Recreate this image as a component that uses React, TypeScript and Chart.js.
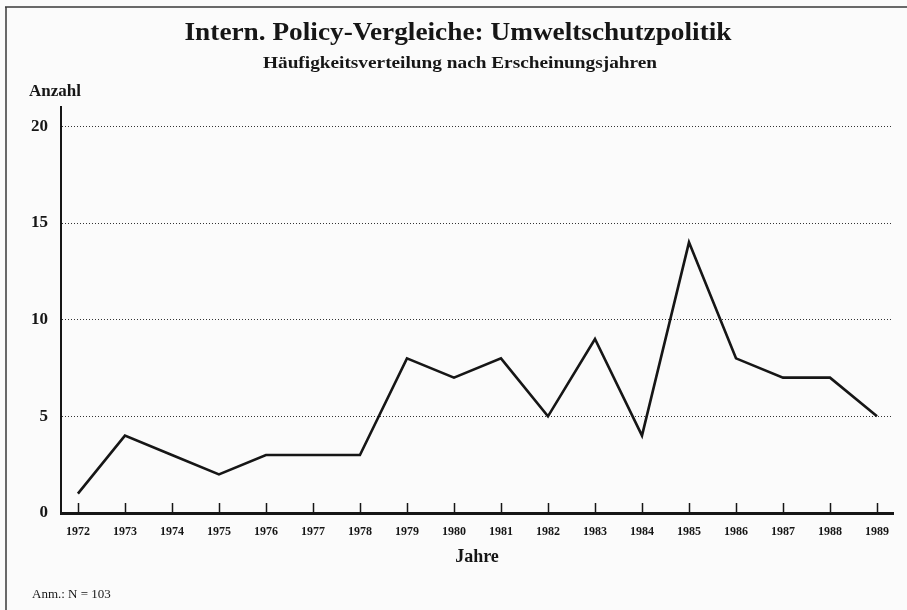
import { useEffect, useRef } from "react";
import { Chart, registerables } from "chart.js";

Chart.register(...registerables);

const years = [1972, 1973, 1974, 1975, 1976, 1977, 1978, 1979, 1980, 1981, 1982, 1983, 1984, 1985, 1986, 1987, 1988, 1989];
const counts = [1, 4, 3, 2, 3, 3, 3, 8, 7, 8, 5, 9, 4, 14, 8, 7, 7, 5];
const yTickValues = [0, 5, 10, 15, 20];

const titleText = "Intern. Policy-Vergleiche: Umweltschutzpolitik";
const subtitleText = "Häufigkeitsverteilung nach Erscheinungsjahren";
const yAxisLabel = "Anzahl";
const xAxisLabel = "Jahre";
const noteText = "Anm.: N = 103";

const SERIF = '"Liberation Serif", "DejaVu Serif", serif';
const INK = "#161616";

function fitText(ctx: CanvasRenderingContext2D, text: string, x: number, y: number, width: number, align: "left" | "center") {
  const w = ctx.measureText(text).width;
  const sx = width / w;
  ctx.save();
  ctx.translate(x, y);
  ctx.scale(sx, 1);
  ctx.textAlign = align;
  ctx.fillText(text, 0, 0);
  ctx.restore();
}

const decorPlugin = {
  id: "decor",
  beforeDraw(chart: any) {
    const ctx = chart.ctx as CanvasRenderingContext2D;
    ctx.save();
    ctx.fillStyle = "#fbfbfb";
    ctx.fillRect(0, 0, chart.width, chart.height);
    ctx.strokeStyle = "#3a3a3a";
    ctx.lineWidth = 1.5;
    ctx.beginPath();
    ctx.moveTo(5, 7);
    ctx.lineTo(chart.width, 7);
    ctx.moveTo(6, 7);
    ctx.lineTo(6, chart.height);
    ctx.stroke();
    ctx.restore();
  },
  afterDraw(chart: any) {
    const ctx = chart.ctx as CanvasRenderingContext2D;
    const area = chart.chartArea;
    const xs = chart.scales.x;
    ctx.save();
    // inward tick marks on the x axis
    ctx.strokeStyle = INK;
    ctx.lineWidth = 1.5;
    ctx.beginPath();
    for (const yr of years) {
      const px = Math.round(xs.getPixelForValue(yr)) + 0.5;
      ctx.moveTo(px, area.bottom - 10);
      ctx.lineTo(px, area.bottom);
    }
    ctx.stroke();

    ctx.fillStyle = INK;
    ctx.textBaseline = "alphabetic";
    ctx.font = `bold 26px ${SERIF}`;
    fitText(ctx, titleText, 458, 40, 547, "center");
    ctx.font = `bold 17px ${SERIF}`;
    fitText(ctx, subtitleText, 460, 68, 394, "center");
    ctx.font = `bold 17px ${SERIF}`;
    ctx.textAlign = "left";
    ctx.fillText(yAxisLabel, 29, 96);
    ctx.font = `bold 18px ${SERIF}`;
    ctx.textAlign = "center";
    ctx.fillText(xAxisLabel, (area.left + area.right) / 2, 562);
    ctx.font = `13px ${SERIF}`;
    ctx.textAlign = "left";
    ctx.fillText(noteText, 32, 598);
    ctx.restore();
  },
};

export default function App() {
  const canvasRef = useRef<HTMLCanvasElement | null>(null);

  useEffect(() => {
    const canvas = canvasRef.current;
    if (!canvas) return;
    const chart = new Chart(canvas, {
      type: "line",
      data: {
        datasets: [
          {
            label: "Anzahl",
            data: years.map((y, i) => ({ x: y, y: counts[i] })),
            borderColor: INK,
            borderWidth: 2.6,
            pointRadius: 0,
            fill: false,
            tension: 0,
            borderJoinStyle: "miter",
          },
        ],
      },
      options: {
        responsive: false,
        animation: false,
        devicePixelRatio: 1,
        layout: { padding: { left: 0, top: 107, right: 14, bottom: 0 } },
        plugins: {
          legend: { display: false },
          tooltip: { enabled: false },
          title: { display: false },
        },
        scales: {
          x: {
            type: "linear",
            min: 1971.64,
            max: 1989.34,
            afterBuildTicks: (scale: any) => {
              scale.ticks = years.map((v) => ({ value: v }));
            },
            afterFit: (scale: any) => {
              scale.height = 97;
            },
            grid: { display: false, drawTicks: false },
            border: { display: true, color: INK, width: 3 },
            ticks: {
              autoSkip: false,
              maxRotation: 0,
              padding: 12,
              color: INK,
              font: { family: SERIF, size: 12, weight: "bold" },
              callback: (v: any) => String(v),
            },
          },
          y: {
            type: "linear",
            min: 0,
            max: 21,
            afterBuildTicks: (scale: any) => {
              scale.ticks = yTickValues.map((v) => ({ value: v }));
            },
            afterFit: (scale: any) => {
              scale.width = 61;
            },
            grid: {
              drawTicks: false,
              lineWidth: 1,
              color: (c: any) => (c.tick && c.tick.value === 0 ? "rgba(0,0,0,0)" : "#333"),
            },
            border: { display: true, color: INK, width: 2, dash: [1, 2] },
            ticks: {
              padding: 13,
              color: INK,
              font: { family: SERIF, size: 17, weight: "bold" },
              callback: (v: any) => String(v),
            },
          },
        },
      },
      plugins: [decorPlugin],
    } as any);
    return () => chart.destroy();
  }, []);

  return (
    <div style={{ position: "fixed", left: 0, top: 0, width: 907, height: 610 }}>
      <canvas ref={canvasRef} width={907} height={610} style={{ display: "block" }} />
    </div>
  );
}
